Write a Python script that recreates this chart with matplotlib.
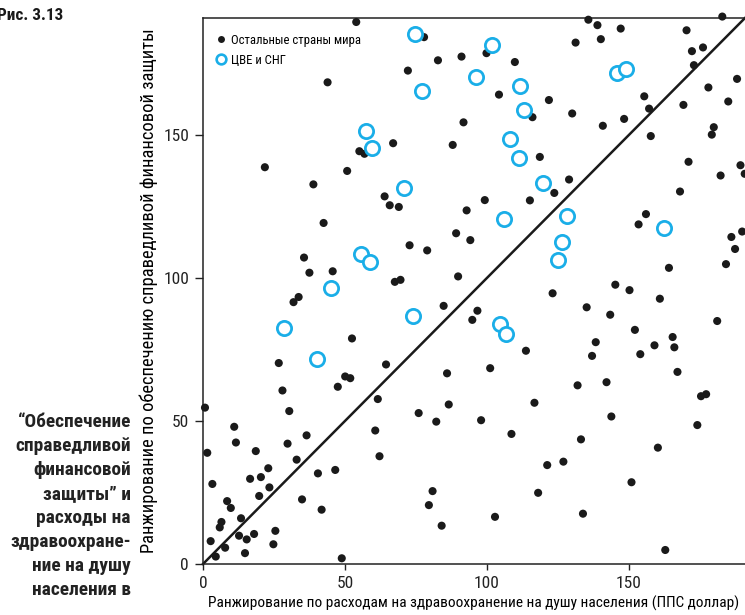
import matplotlib
matplotlib.use("Agg")
import matplotlib.pyplot as plt
from matplotlib.lines import Line2D
from matplotlib import font_manager as fm

# Rest of the world: (health spending rank, fair financing rank)
other_x = [54.0, 43.9, 55.1, 56.9, 21.8, 50.8, 38.9,
           77.9, 82.8, 91.1, 99.9, 109.9, 72.2, 104.3, 121.9, 116.1, 91.8, 67.0, 88.0,
           118.7, 64.0, 123.8, 99.3, 115.2,
           135.8, 139.0, 147.2, 183.0, 170.4, 131.3, 140.2, 172.3, 176.2, 173.0, 188.2,
           178.1, 155.5, 157.2, 169.3, 185.1, 130.1, 148.4, 140.9, 180.0, 179.3, 157.8,
           171.1, 189.4, 190.9, 182.4, 129.0, 168.1,
           42.5, 35.6, 37.5, 45.7, 33.7, 31.9, 52.5, 26.7, 50.1, 51.9,
           65.8, 69.0, 92.9, 89.2, 94.2, 72.8, 79.0, 67.6, 69.6, 89.9, 123.2, 84.8,
           96.7, 94.9, 113.8, 64.5, 86.0, 101.2,
           156.1, 153.5, 190.0, 186.2, 187.5, 184.3, 164.2, 145.3, 150.3, 161.0, 135.2,
           143.5, 181.2, 152.2, 138.4, 165.5, 159.1, 166.1, 137.1, 154.1, 167.2,
           28.0, 47.5, 61.6, 0.7, 30.4, 11.0, 11.6, 36.5, 60.7, 62.2, 29.8, 1.5, 18.6,
           33.0, 23.0, 46.6, 40.5, 16.6, 20.4, 3.3, 23.4, 19.8, 34.9, 8.5, 9.8, 41.8,
           13.4, 6.5, 5.9, 25.5, 12.7, 18.0, 15.4, 2.7, 7.8, 24.8, 14.8, 4.5, 48.9,
           86.6, 116.8, 76.0, 82.2, 98.0, 108.7, 121.3, 80.9, 79.6, 118.1, 102.9, 84.1,
           132.0, 142.2, 175.5, 177.3, 143.9, 174.2, 133.2, 160.3, 127.0, 151.0, 133.9,
           162.9]
other_y = [189.6, 168.5, 144.4, 143.5, 138.8, 137.5, 132.8,
           184.3, 176.2, 177.5, 178.7, 175.6, 172.6, 164.2, 162.3, 156.3, 154.5, 147.2, 146.6,
           142.4, 128.6, 129.8, 127.3, 127.2,
           190.4, 188.5, 187.3, 191.5, 186.7, 182.4, 183.6, 179.4, 180.7, 174.5, 169.7,
           166.7, 163.6, 159.3, 160.6, 161.8, 157.6, 155.7, 153.3, 152.8, 150.2, 149.7,
           140.7, 139.5, 136.5, 135.9, 134.5, 130.3,
           119.3, 107.2, 101.9, 102.4, 93.4, 91.6, 78.9, 70.3, 65.6, 65.0,
           125.5, 124.9, 123.7, 115.7, 113.3, 111.5, 109.7, 98.7, 99.4, 100.6, 94.7, 90.3,
           88.6, 85.4, 74.6, 69.8, 66.7, 68.5,
           122.4, 118.8, 116.3, 114.4, 110.2, 104.9, 103.6, 97.7, 95.8, 92.8, 89.8,
           87.2, 85.0, 81.9, 77.6, 79.4, 76.5, 75.8, 72.8, 73.4, 67.2,
           60.7, 62.0, 57.7, 54.7, 53.5, 48.0, 42.5, 45.0, 46.7, 37.7, 42.1, 38.9, 39.5,
           36.5, 33.5, 32.9, 31.7, 29.8, 30.4, 28.0, 26.8, 23.8, 22.6, 22.0, 19.6, 19.0,
           16.0, 14.7, 12.8, 11.6, 9.9, 10.5, 8.6, 8.0, 5.7, 6.9, 3.8, 2.6, 2.0,
           55.8, 56.4, 52.8, 49.8, 50.3, 45.5, 34.6, 25.5, 20.6, 24.9, 16.5, 13.4,
           62.5, 63.6, 58.7, 59.4, 51.6, 48.6, 43.6, 40.7, 35.8, 28.6, 17.6,
           4.9]

# Central & Eastern Europe and CIS
cee_x = [74.8, 101.9, 96.1, 111.7, 77.1, 113.1, 57.5, 59.5, 108.1, 111.3, 119.9,
         70.8, 145.9, 149.1, 128.2, 106.1, 162.3, 126.4, 55.8, 58.9, 125.2, 45.1,
         28.6, 74.0, 104.8, 106.7, 40.0]
cee_y = [185.4, 181.7, 170.3, 167.1, 165.4, 158.8, 151.6, 145.6, 148.5, 141.9, 133.3,
         131.6, 171.8, 173.3, 121.9, 120.6, 117.6, 112.7, 108.6, 105.5, 106.5, 96.4,
         82.5, 86.7, 83.8, 80.5, 71.6]

axis_max = 191
ticks = [0, 50, 100, 150]

legend_labels = ["Остальные страны мира", "ЦВЕ и СНГ"]
x_label = "Ранжирование по расходам на здравоохранение на душу населения (ППС доллар)"
y_label = "Ранжирование по обеспечению справедливой финансовой защиты"
fig_title = "Рис. 3.13"
side_lines = ["\u201cОбеспечение", "справедливой", "финансовой", "защиты\u201d и",
              "расходы на", "здравоохране-", "ние на душу", "населения в"]

# Prefer a narrow sans face when one is available
available = {f.name for f in fm.fontManager.ttflist}
stretch = 'normal'
family = 'Liberation Sans'
for cand in ['Liberation Sans Narrow', 'Roboto Condensed', 'Open Sans Condensed',
             'DejaVu Sans Condensed']:
    if cand in available:
        family = cand
        break
else:
    if any(f.name == 'DejaVu Sans' and str(f.stretch) in ('condensed', 'semi-condensed')
           for f in fm.fontManager.ttflist):
        family = 'DejaVu Sans'
        stretch = 'condensed'
plt.rcParams['font.family'] = [family, 'DejaVu Sans']
plt.rcParams['font.stretch'] = stretch

blue = "#1AAEE8"
ink = "#1a1a1a"
W, H = 745, 615

fig = plt.figure(figsize=(W / 100, H / 100), dpi=100)
ax = fig.add_axes([203 / W, 51 / H, 1 - 203 / W, (564 - 18) / H])

ax.plot([0, axis_max], [0, axis_max], color=ink, lw=1.8, zorder=2, clip_on=False)
ax.scatter(other_x, other_y, s=34, color=ink, edgecolors="none", zorder=3, clip_on=False)
ax.scatter(cee_x, cee_y, s=105, facecolors="white", edgecolors=blue, linewidths=2.0,
           zorder=4, clip_on=False)

ax.set_xlim(0, axis_max)
ax.set_ylim(0, axis_max)
ax.set_xticks(ticks)
ax.set_yticks(ticks)
ax.spines['right'].set_visible(False)
for s in ['left', 'bottom', 'top']:
    ax.spines[s].set_linewidth(1.1)
    ax.spines[s].set_color("#222222")
ax.tick_params(axis='y', direction='out', length=6, width=1, labelsize=12.5, pad=4, colors="#222222")
ax.tick_params(axis='x', direction='out', length=4, width=1, labelsize=12.5, pad=5, colors="#222222")

xl = ax.set_xlabel(x_label, fontsize=10.5, labelpad=3)
yl = ax.set_ylabel(y_label, fontsize=10.5)
ax.yaxis.set_label_coords(-(203 - 158) / (W - 203), 0.5)

handles = [
    Line2D([], [], ls='none', marker='o', markersize=5, color=ink, markeredgewidth=0),
    Line2D([], [], ls='none', marker='o', markersize=7, markerfacecolor='white',
           markeredgecolor=blue, markeredgewidth=1.9),
]
leg = ax.legend(handles, legend_labels, loc='upper left', bbox_to_anchor=(0.0, 0.99),
                frameon=False, fontsize=10.5, handletextpad=0.2, handlelength=1.0,
                borderaxespad=0.3, labelspacing=0.45)

title = fig.text(63 / W, 1 - 15 / H, fig_title, fontsize=10.5, fontweight='bold',
                 ha='right', va='center', color=ink)

side = []
for i, line in enumerate(side_lines):
    yc = 422 + 24 * i
    side.append(fig.text(131 / W, 1 - yc / H, line, fontsize=13, fontweight='bold',
                         ha='right', va='center', color="#222222"))

# Size texts to their intended extents in pixels
fig.canvas.draw()
r = fig.canvas.get_renderer()


def fit(texts, target, ref=None, vertical=False):
    ref = ref if ref is not None else texts[0]
    bb = ref.get_window_extent(r)
    span = bb.height if vertical else bb.width
    k = target / span
    for t in texts:
        t.set_fontsize(t.get_fontsize() * k)


fit([xl], 533)
fit([yl], 528, vertical=True)
fit(leg.get_texts(), 132)
fit(side, 115, ref=side[1])
fit([title], 66)

fig.savefig("out.png", dpi=100)
